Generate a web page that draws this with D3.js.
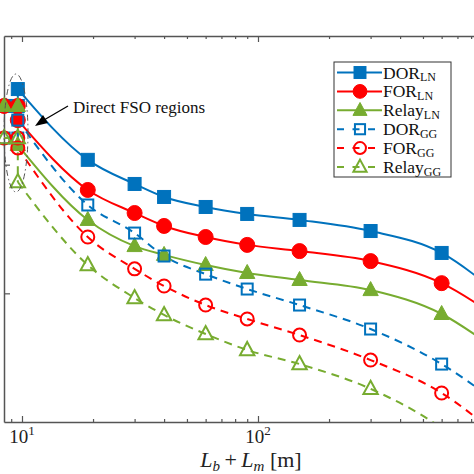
<!DOCTYPE html>
<html><head><meta charset="utf-8">
<script src="https://cdn.jsdelivr.net/npm/d3@7"></script>
<style>body{margin:0;background:#fff}svg{display:block}</style>
</head><body><svg id="c" width="474" height="474"></svg>
<script>
// ---- data ----
const L = [8.4, 9.6, 9.6, 19, 30, 40, 60, 90, 150, 300, 600, 1000];
const dorLN   = [2.86e-4, 2.86e-4, 3.87e-4, 1.09e-4, 7.08e-5, 5.61e-5, 4.69e-5, 4.14e-5, 3.72e-5, 3.05e-5, 2.06e-5, 1.06e-5];
const forLN   = [2.86e-4, 2.86e-4, 2.22e-4, 6.36e-5, 4.21e-5, 3.34e-5, 2.74e-5, 2.38e-5, 2.13e-5, 1.78e-5, 1.20e-5, 6.79e-6];
const relayLN = [2.86e-4, 2.86e-4, 1.42e-4, 3.72e-5, 2.33e-5, 1.99e-5, 1.66e-5, 1.44e-5, 1.27e-5, 1.06e-5, 6.91e-6, 3.76e-6];
const dorGG   = [1.61e-4, 1.61e-4, 2.22e-4, 4.86e-5, 2.94e-5, 1.95e-5, 1.41e-5, 1.08e-5, 8.11e-6, 5.28e-6, 2.82e-6, 1.48e-6];
const forGG   = [1.61e-4, 1.61e-4, 1.35e-4, 2.74e-5, 1.55e-5, 1.14e-5, 8.11e-6, 6.32e-6, 4.74e-6, 3.03e-6, 1.68e-6, 8.36e-7];
const relayGG = [1.61e-4, 1.61e-4, 7.33e-5, 1.66e-5, 9.20e-6, 6.79e-6, 4.83e-6, 3.63e-6, 2.82e-6, 1.81e-6, 8.98e-7, 4.24e-7];
const seriesNames = ["DOR", "FOR", "Relay", "DOR", "FOR", "Relay"];
const seriesSubs  = ["LN", "LN", "LN", "GG", "GG", "GG"];
const xDomain = [8.39, 1000];
const yDomain = [1e-6, 1e-3];
const xMinorTicks = [9, 10, 20, 30, 40, 50, 60, 70, 80, 90, 100, 200, 300, 400, 500, 600, 700, 800, 900, 1000];
const xLabelTicks = [10, 100];
const yTicks = [1e-5, 1e-4];
const annotation = "Direct FSO regions";

// ---- styles ----
const blue = "#0072BD", red = "#FF0000", green = "#77AC30";
const styles = [
  {c: blue, dash: null, m: "square", fill: true},
  {c: red, dash: null, m: "circle", fill: true},
  {c: green, dash: null, m: "triangle", fill: true},
  {c: blue, dash: "8,6", m: "square", fill: false},
  {c: red, dash: "8,6", m: "circle", fill: false},
  {c: green, dash: "8,6", m: "triangle", fill: false},
];
const allSeries = [dorLN, forLN, relayLN, dorGG, forGG, relayGG];
const serif = "'Liberation Serif','Times New Roman',serif";
const axisCol = "#555";

const svg = d3.select("#c");
const x = d3.scaleLog().domain(xDomain).range([4, 494]);
const y = d3.scaleLog().domain(yDomain).range([422, 36]);

svg.append("defs").append("clipPath").attr("id", "clip")
  .append("rect").attr("x", 4).attr("y", 36).attr("width", 490).attr("height", 386);

// axes
const gx = svg.append("g").attr("transform", "translate(0,422)")
  .call(d3.axisBottom(x).tickValues(xMinorTicks).tickFormat("").tickSizeOuter(0)
    .tickSizeInner(-3));
gx.selectAll(".tick line").filter(d => d === 10 || d === 100 || d === 1000).attr("y2", -6);
const gxt = svg.append("g").attr("transform", "translate(0,36)")
  .call(d3.axisTop(x).tickValues(xMinorTicks).tickFormat("").tickSizeOuter(0)
    .tickSizeInner(-3));
gxt.selectAll(".tick line").filter(d => d === 10 || d === 100 || d === 1000).attr("y2", 6);
const gy = svg.append("g").attr("transform", "translate(4,0)")
  .call(d3.axisLeft(y).tickValues(yTicks).tickFormat("").tickSizeOuter(0).tickSizeInner(-6));
[gx, gxt, gy].forEach(g => {
  g.select(".domain").attr("stroke", axisCol).attr("stroke-width", 1.5);
  g.selectAll(".tick line").attr("stroke", axisCol).attr("stroke-width", 1.2);
});

// x tick labels 10^k
xLabelTicks.forEach(v => {
  const t = svg.append("text").attr("x", x(v)).attr("y", 443).attr("text-anchor", "middle")
    .attr("font-family", serif).attr("font-size", 19).attr("fill", "#222");
  t.append("tspan").text("10");
  t.append("tspan").attr("dy", -8).attr("font-size", 13).text(String(Math.round(Math.log10(v))));
});

// x axis label
const xl = svg.append("text").attr("x", 251).attr("y", 467).attr("text-anchor", "middle")
  .attr("font-family", serif).attr("font-size", 22).attr("fill", "#222");
xl.append("tspan").attr("font-style", "italic").text("L");
xl.append("tspan").attr("font-style", "italic").attr("font-size", 15).attr("dy", 4).text("b");
xl.append("tspan").attr("dy", -4).text("\u2009+\u2009");
xl.append("tspan").attr("font-style", "italic").text("L");
xl.append("tspan").attr("font-style", "italic").attr("font-size", 15).attr("dy", 4).text("m");
xl.append("tspan").attr("dy", -4).text(" [m]");

// marker drawer
function marker(g, type, cx, cy, st, scale) {
  const s = scale || 1;
  const fill = st.fill ? st.c : "none";
  const sw = st.fill ? 1 : 2;
  if (type === "square") {
    const h = (st.fill ? 6.5 : 5.5) * s;
    g.append("rect").attr("x", cx - h).attr("y", cy - h).attr("width", 2 * h).attr("height", 2 * h)
      .attr("fill", fill).attr("stroke", st.c).attr("stroke-width", sw);
  } else if (type === "circle") {
    g.append("circle").attr("cx", cx).attr("cy", cy).attr("r", (st.fill ? 7.5 : 6.5) * s)
      .attr("fill", fill).attr("stroke", st.c).attr("stroke-width", sw);
  } else {
    const r = (st.fill ? 8.5 : 8) * s;
    const pts = [[cx, cy - r], [cx + r * 0.9, cy + r * 0.65], [cx - r * 0.9, cy + r * 0.65]];
    g.append("polygon").attr("points", pts.map(p => p.join(",")).join(" "))
      .attr("fill", fill).attr("stroke", st.c).attr("stroke-width", sw).attr("stroke-linejoin", "miter");
  }
}

// series
const plot = svg.append("g");
const linesG = plot.append("g").attr("clip-path", "url(#clip)");
const lin = d3.line().x(d => x(d[0])).y(d => y(d[1]));
const crv = d3.line().x(d => x(d[0])).y(d => y(d[1])).curve(d3.curveMonotoneX);
allSeries.forEach((vals, i) => {
  const st = styles[i];
  const pts = L.map((l, k) => [l, vals[k]]);
  [lin(pts.slice(0, 3)), crv(pts.slice(2))].forEach(d => {
    const p = linesG.append("path").attr("d", d).attr("fill", "none").attr("stroke", st.c)
      .attr("stroke-width", 2);
    if (st.dash) p.attr("stroke-dasharray", st.dash);
  });
});
const markG = plot.append("g");
allSeries.forEach((vals, i) => {
  const st = styles[i];
  L.forEach((l, k) => {
    const v = vals[k];
    if (l < xDomain[0] || l > xDomain[1] || v < yDomain[0] || v > yDomain[1]) return;
    marker(markG, st.m, x(l), y(v), st);
  });
});

// annotation: ellipse + arrow + text
svg.append("ellipse").attr("cx", 16).attr("cy", 133).attr("rx", 12).attr("ry", 59)
  .attr("fill", "none").attr("stroke", "#555").attr("stroke-width", 1)
  .attr("stroke-dasharray", "6,3,1.5,3");
svg.append("line").attr("x1", 68).attr("y1", 106).attr("x2", 44).attr("y2", 120)
  .attr("stroke", "#000").attr("stroke-width", 1.3);
svg.append("polygon").attr("points", "35,126 43,115 48,123").attr("fill", "#000");
svg.append("text").attr("x", 73).attr("y", 113).attr("font-family", serif).attr("font-size", 17)
  .attr("fill", "#111").text(annotation);

// legend
const lg = svg.append("g");
lg.append("rect").attr("x", 334).attr("y", 62).attr("width", 117).attr("height", 115)
  .attr("fill", "#fff").attr("stroke", "#333").attr("stroke-width", 1);
seriesNames.forEach((nm, i) => {
  const st = styles[i];
  const yy = 72.5 + i * 18.9;
  const ln = lg.append("line").attr("x1", 337).attr("x2", 382).attr("y1", yy).attr("y2", yy)
    .attr("stroke", st.c).attr("stroke-width", 2);
  if (st.dash) ln.attr("stroke-dasharray", "7,8.5");
  marker(lg, st.m, 360, yy, st, 0.92);
  const t = lg.append("text").attr("x", 383).attr("y", yy + 6).attr("font-family", serif)
    .attr("font-size", 17.5).attr("fill", "#111");
  t.append("tspan").text(nm);
  t.append("tspan").attr("dy", 2.5).attr("font-size", 12).text(seriesSubs[i]);
});
</script></body></html>
